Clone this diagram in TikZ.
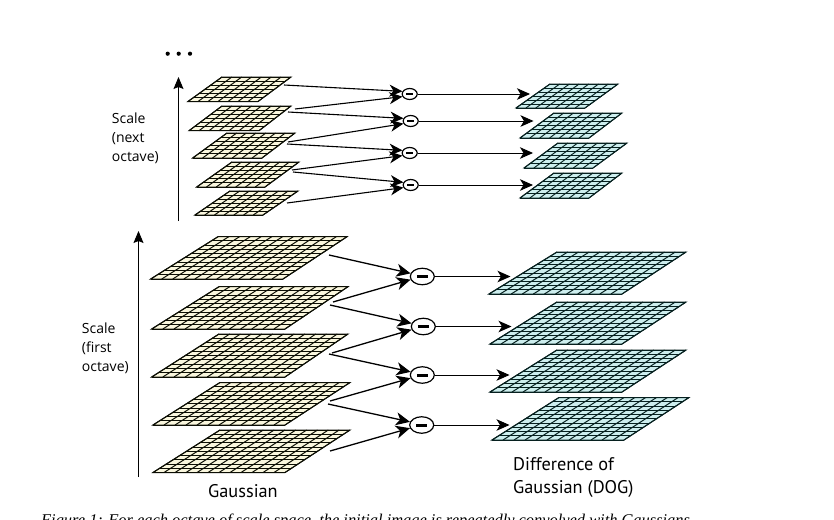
\documentclass[tikz,border=0pt]{standalone}
\usepackage{fontspec}
\setmainfont{Open Sans}
\newfontfamily\narrowfont{PT Sans}
\newfontfamily\capfont{Liberation Serif}
\usetikzlibrary{arrows.meta,calc,shapes.geometric}
\definecolor{gaussfill}{HTML}{FAF7DE}
\definecolor{dogfill}{HTML}{CDEEEE}
\definecolor{gridline}{HTML}{0C0E04}
\definecolor{dogline}{HTML}{06201F}
\tikzset{
  smallhead/.style={-{Stealth[length=13pt,width=12pt,inset=4pt]},line width=1.1pt,black},
  largehead/.style={-{Stealth[length=14pt,width=13pt,inset=4pt]},line width=1.3pt,black},
  thinhead/.style={-{Stealth[length=13pt,width=11.5pt,inset=3.5pt]},line width=0.95pt,black},
  axisline/.style={-{Stealth[length=12pt,width=10pt,inset=2pt]},line width=1pt,black},
  smallop/.style={ellipse,draw=black,fill=white,line width=1.2pt,minimum width=15pt,minimum height=11pt,inner sep=0pt},
  largeop/.style={ellipse,draw=black,fill=white,line width=1.2pt,minimum width=24pt,minimum height=16.5pt,inner sep=0pt},
  scalelabel/.style={font=\fontsize{14}{19}\selectfont,align=left,anchor=north west,inner sep=0pt},
  namelabel/.style={font=\narrowfont\fontsize{18.3}{23}\selectfont,align=left,anchor=north west,inner sep=0pt},
}
% #1 bl x, #2 bl y, #3 br x, #4 tr x, #5 tr y, #6 tl x, #7 cols, #8 rows, #9 fill/line/width
\newcommand{\gridplane}[9]{%
  \coordinate (bl) at (#1,#2);\coordinate (br) at (#3,#2);
  \coordinate (tr) at (#4,#5);\coordinate (tl) at (#6,#5);
  \fill[#9] (bl) -- (br) -- (tr) -- (tl) -- cycle;
  \foreach \i in {0,...,#7}{
    \pgfmathsetmacro{\t}{\i/#7}
    \draw[#9,fill=none] ($(bl)!\t!(br)$) -- ($(tl)!\t!(tr)$);
  }
  \foreach \i in {0,...,#8}{
    \pgfmathsetmacro{\t}{\i/#8}
    \draw[#9,fill=none] ($(bl)!\t!(tl)$) -- ($(br)!\t!(tr)$);
  }
}
\tikzset{
  gaussS/.style={fill=gaussfill,draw=gridline,line width=1pt},
  gaussL/.style={fill=gaussfill,draw=gridline,line width=1pt},
  dogS/.style={fill=dogfill,draw=dogline,line width=0.95pt},
  dogL/.style={fill=dogfill,draw=dogline,line width=1pt},
}
\begin{document}
\begin{tikzpicture}[x=1pt,y=-1pt]
\fill[white] (0,0) rectangle (834,519);
\useasboundingbox (0,0) rectangle (834,519);

% dots
\foreach \x in {167.7,178.7,190}{
  \fill[black] (\x,53.7) circle (2.1pt);
}

% next octave Gaussian planes
\gridplane{188}{101.5}{258}{291}{77}{222}{7}{6}{gaussS}
\gridplane{189}{130.7}{259}{291}{106}{222}{7}{6}{gaussS}
\gridplane{192.7}{158}{262}{295}{133}{227}{7}{6}{gaussS}
\gridplane{196.7}{187}{265}{299}{162}{232}{7}{6}{gaussS}
\gridplane{195}{215}{263}{298}{191}{230}{7}{6}{gaussS}

% next octave DOG planes
\gridplane{516}{108}{585}{618}{84}{550}{7}{6}{dogS}
\gridplane{520}{138}{589}{622}{113}{554}{7}{6}{dogS}
\gridplane{524}{168}{593}{627}{143}{558}{7}{6}{dogS}
\gridplane{520}{198}{589}{622}{173}{554}{7}{6}{dogS}

% first octave Gaussian planes
\gridplane{150.7}{279}{283}{347}{236.7}{218}{12}{10}{gaussL}
\gridplane{151.7}{329}{285}{348}{286.7}{219}{12}{10}{gaussL}
\gridplane{151.7}{377}{285}{348}{334}{219}{12}{10}{gaussL}
\gridplane{153}{425}{285}{350}{382.5}{220}{12}{10}{gaussL}
\gridplane{153}{472.5}{285}{350}{430}{220}{12}{10}{gaussL}

% first octave DOG planes
\gridplane{489}{294}{622}{686}{252}{557}{12}{10}{dogL}
\gridplane{490}{344}{622}{686}{302}{557}{12}{10}{dogL}
\gridplane{490}{392}{622}{686}{350}{557}{12}{10}{dogL}
\gridplane{492}{440}{624}{689}{397.5}{559}{12}{10}{dogL}

% axes
\coordinate (axisNextFoot) at (178.5,221);
\coordinate (axisNextTip) at (178.5,77);
\coordinate (axisFirstFoot) at (138.5,477);
\coordinate (axisFirstTip) at (138.5,231);
\draw[axisline] (axisNextFoot) -- (axisNextTip);
\draw[axisline] (axisFirstFoot) -- (axisFirstTip);

% difference operators
\node[smallop] (s1) at (409.7,94) {\rule{7pt}{2.6pt}};
\node[smallop] (s2) at (410.7,121) {\rule{7pt}{2.6pt}};
\node[smallop] (s3) at (409.7,153) {\rule{7pt}{2.6pt}};
\node[smallop] (s4) at (410.7,185) {\rule{7pt}{2.6pt}};
\node[largeop] (l1) at (422.3,276.5) {\rule{11pt}{3pt}};
\node[largeop] (l2) at (423.3,326.5) {\rule{11pt}{3pt}};
\node[largeop] (l3) at (422.3,375) {\rule{11pt}{3pt}};
\node[largeop] (l4) at (421.7,425) {\rule{11pt}{3pt}};

% free ends, next octave
\foreach \n/\p in {a/{284,85},b/{295,109},c/{288,112},d/{288,142},e/{287,144},f/{292,170},g/{293,172},h/{287,203}}{
  \coordinate (\n) at (\p);
}
\draw[smallhead] (a) -- (s1.160);
\draw[smallhead] (b) -- (s1.200);
\draw[smallhead] (c) -- (s2.160);
\draw[smallhead] (d) -- (s2.200);
\draw[smallhead] (e) -- (s3.160);
\draw[smallhead] (f) -- (s3.200);
\draw[smallhead] (g) -- (s4.160);
\draw[smallhead] (h) -- (s4.200);

% free ends, first octave
\foreach \n/\p in {m/{329,255},n/{333,302},o/{330,305},q/{332,353},r/{329,354},u/{330,401},v/{328,404},w/{330,451}}{
  \coordinate (\n) at (\p);
}
\draw[largehead] (m) -- (l1.165);
\draw[largehead] (n) -- (l1.195);
\draw[largehead] (o) -- (l2.165);
\draw[largehead] (q) -- (l2.195);
\draw[largehead] (r) -- (l3.165);
\draw[largehead] (u) -- (l3.195);
\draw[largehead] (v) -- (l4.165);
\draw[largehead] (w) -- (l4.195);

% to DOG planes
\coordinate (ts1) at (530,94);
\coordinate (ts2) at (533.5,121);
\coordinate (ts3) at (533,153);
\coordinate (ts4) at (533,185);
\coordinate (tl1) at (510.5,276.5);
\coordinate (tl2) at (511.5,326.5);
\coordinate (tl3) at (509.5,375);
\coordinate (tl4) at (509.5,425);
\draw[thinhead] (s1.east) -- (ts1);
\draw[thinhead] (s2.east) -- (ts2);
\draw[thinhead] (s3.east) -- (ts3);
\draw[thinhead] (s4.east) -- (ts4);
\draw[thinhead] (l1.east) -- (tl1);
\draw[thinhead] (l2.east) -- (tl2);
\draw[thinhead] (l3.east) -- (tl3);
\draw[thinhead] (l4.east) -- (tl4);

% labels
\node[scalelabel] (scaleNext) at (111.7,113) {Scale\\(next\\octave)};
\node[scalelabel] (scaleFirst) at (81.7,323) {Scale\\(first\\octave)};
\node[namelabel] (gaussLabel) at (208,484) {Gaussian};
\node[namelabel] (dogLabel) at (513,457) {Difference of\\Gaussian (DOG)};

% clipped caption
\begin{scope}
\clip (0,505) rectangle (834,519);
\node[anchor=base west,inner sep=0pt,font=\capfont\itshape\fontsize{16.4}{18}\selectfont] (caption) at (41,525.5) {Figure 1: For each octave of scale space, the initial image is repeatedly convolved with Gaussians};
\end{scope}
\end{tikzpicture}
\end{document}
